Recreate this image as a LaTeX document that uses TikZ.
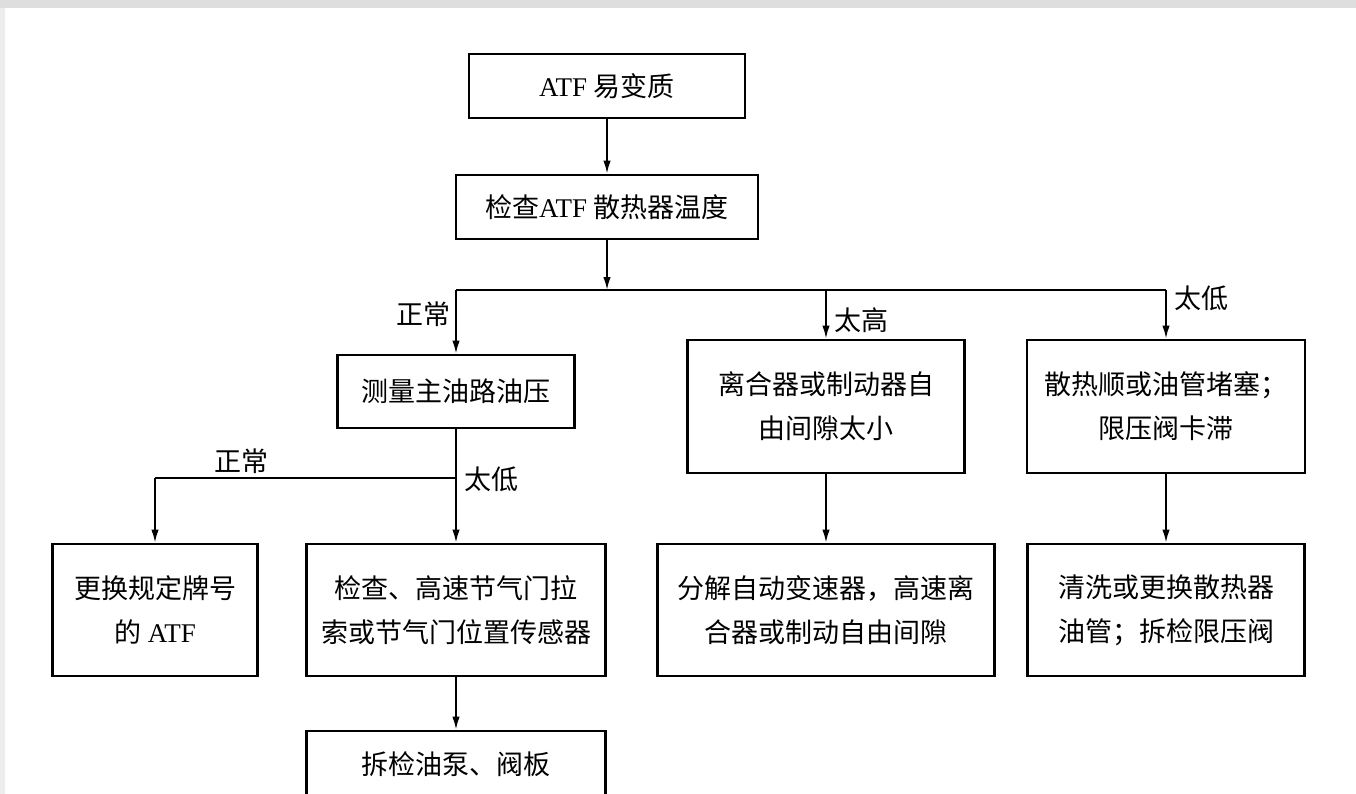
\documentclass[tikz,border=0pt]{standalone}
\usepackage{fontspec}
\setmainfont{Liberation Serif}
\newfontfamily\cjk{Noto Sans CJK SC}
\usetikzlibrary{arrows.meta}
\tikzset{
  box/.style={draw=black, line width=2.8pt, fill=white, inner sep=0pt, align=center,
    font=\fontsize{27}{44}\selectfont},
  conn/.style={draw=black, line width=1.8pt},
  arr/.style={conn, -{Latex[length=13pt,width=7.5pt]}},
  lbl/.style={font=\fontsize{27}{30}\selectfont, inner sep=0pt}
}
\begin{document}
\begin{tikzpicture}[x=1pt,y=-1pt]
\useasboundingbox (0,0) rectangle (1356,794);
\fill[black!13] (0,0) rectangle (1356,794);
\fill[black!7] (0,8) rectangle (5,794);
\fill[white] (5,8) rectangle (1356,794);

\node[box, minimum width=276pt, minimum height=64pt] (b1) at (607,86) {ATF {\cjk 易变质}};
\node[box, minimum width=302pt, minimum height=64pt] (b2) at (607,207) {{\cjk 检查}ATF {\cjk 散热器温度}};
\node[box, minimum width=237pt, minimum height=73pt] (b3) at (456,391.5) {\cjk 测量主油路油压};
\node[box, minimum width=277pt, minimum height=133pt] (b4) at (826,406.5) {\cjk 离合器或制动器自\\\cjk 由间隙太小};
\node[box, minimum width=278pt, minimum height=133pt] (b5) at (1166,406.5) {\cjk 散热顺或油管堵塞；\\\cjk 限压阀卡滞};
\node[box, minimum width=205pt, minimum height=132pt] (b6) at (155,610) {{\cjk 更换规定牌号}\\{\cjk 的} ATF};
\node[box, minimum width=299pt, minimum height=132pt] (b7) at (456,610) {\cjk 检查、高速节气门拉\\\cjk 索或节气门位置传感器};
\node[box, minimum width=337pt, minimum height=132pt] (b9) at (826,610) {\cjk 分解自动变速器，高速离\\\cjk 合器或制动自由间隙};
\node[box, minimum width=277pt, minimum height=132pt] (b10) at (1166,610) {\cjk 清洗或更换散热器\\\cjk 油管；拆检限压阀};
\node[box, minimum width=299pt, minimum height=66pt] (b8) at (456,764) {\cjk 拆检油泵、阀板};

\coordinate (h1) at (456,290);
\coordinate (h2) at (826,290);
\coordinate (h3) at (1166,290);
\coordinate (hm) at (607,290);
\coordinate (g1) at (456,478);
\coordinate (g2) at (155,478);

\draw[arr] (b1.south) -- (b2.north);
\draw[arr] (b2.south) -- (hm);
\draw[conn] (h1) -- (h3);
\draw[arr] (h1) -- (b3.north);
\draw[arr] (h2) -- (b4.north);
\draw[arr] (h3) -- (b5.north);
\draw[arr] (b3.south) -- (b7.north);
\draw[conn] (g1) -- (g2);
\draw[arr] (g2) -- (b6.north);
\draw[arr] (b7.south) -- (b8.north);
\draw[arr] (b4.south) -- (b9.north);
\draw[arr] (b5.south) -- (b10.north);

\node[lbl, anchor=east] (l1) at (451,314) {\cjk 正常};
\node[lbl, anchor=west] (l2) at (834,320) {\cjk 太高};
\node[lbl, anchor=west] (l3) at (1174,298) {\cjk 太低};
\node[lbl] (l4) at (241,461) {\cjk 正常};
\node[lbl, anchor=west] (l5) at (464,479) {\cjk 太低};
\end{tikzpicture}
\end{document}
